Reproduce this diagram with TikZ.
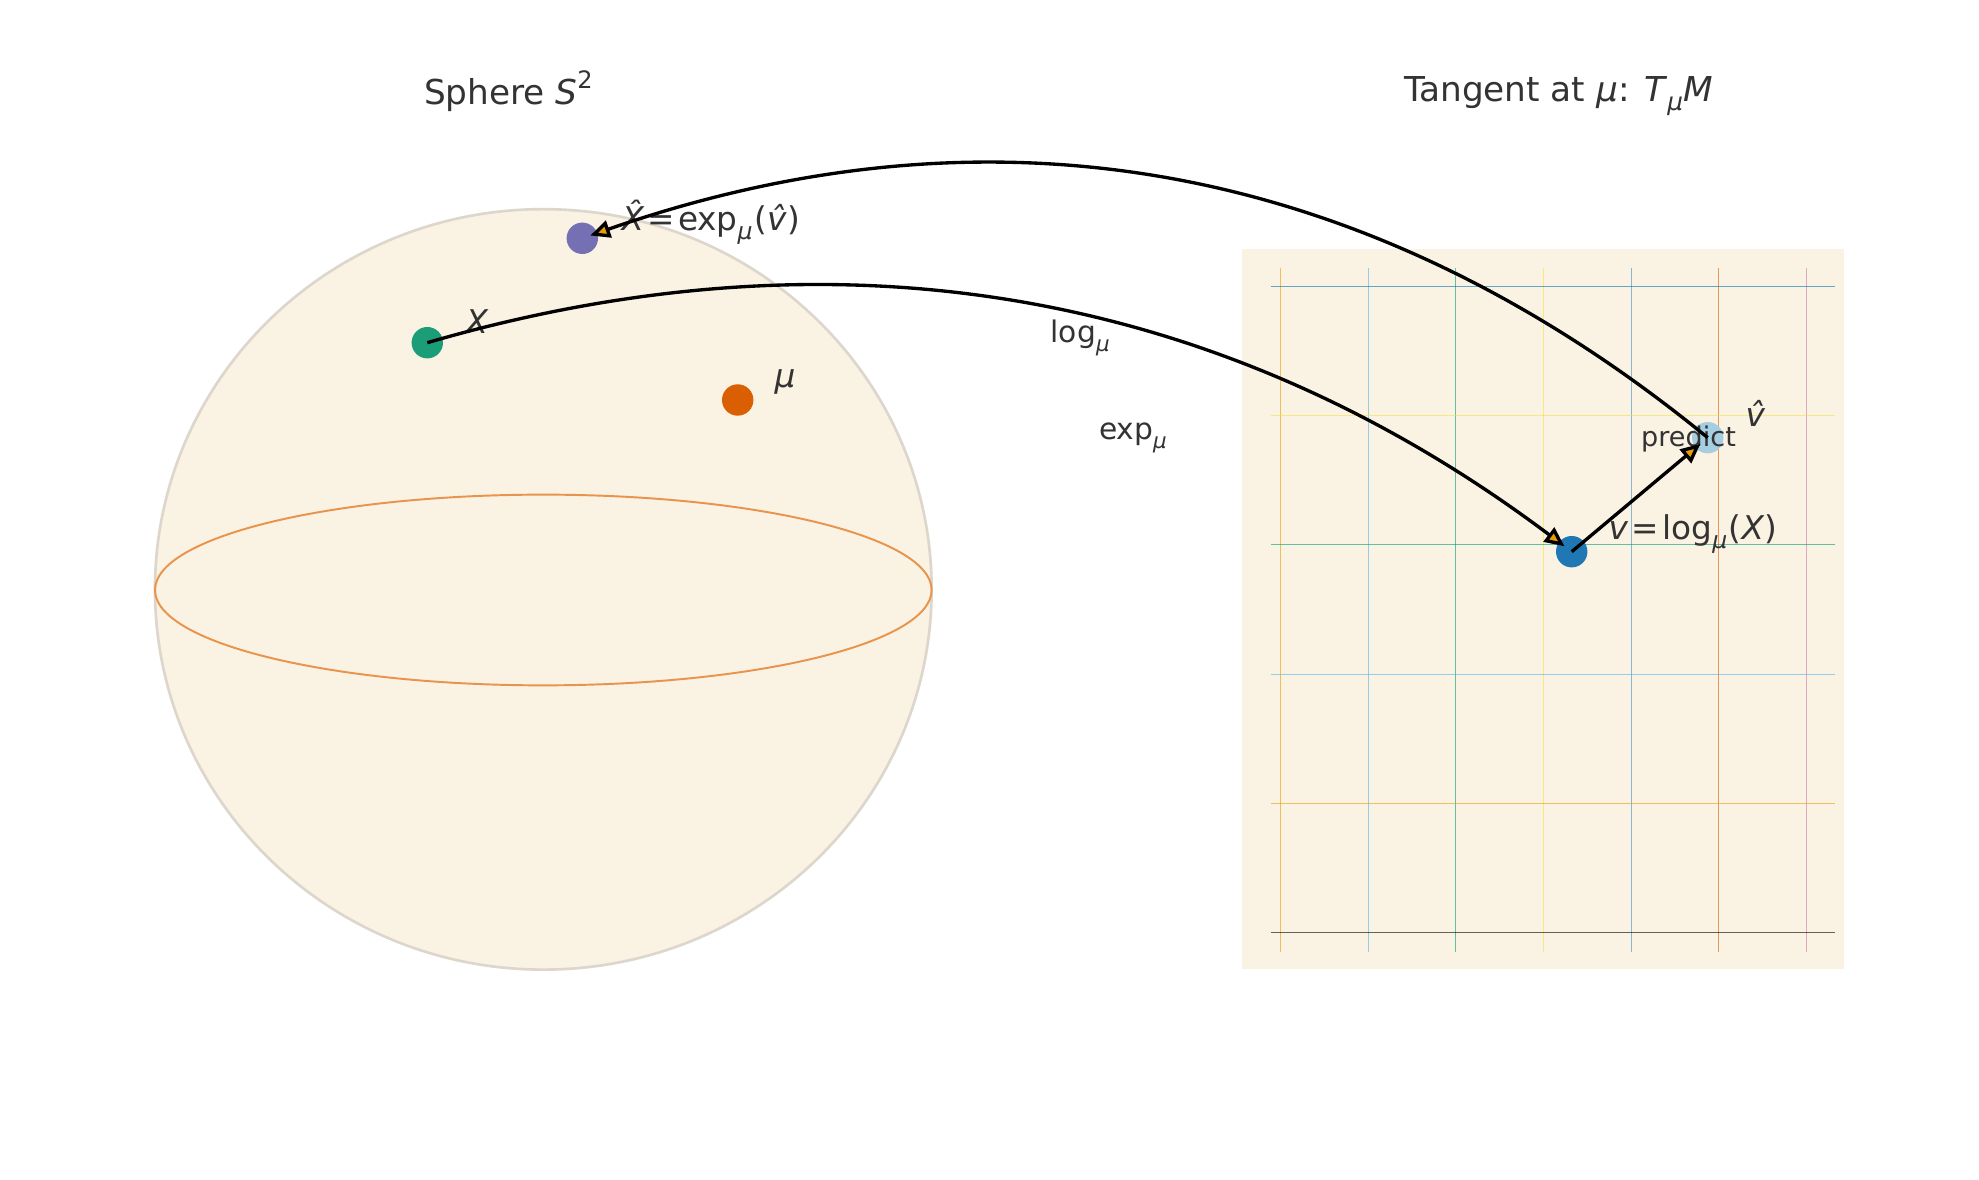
\documentclass[tikz,border=0pt]{standalone}
\usepackage{fontspec}
\setmainfont{DejaVu Sans}
\usetikzlibrary{arrows.meta}
\definecolor{txt}{RGB}{51,51,51}
\definecolor{cream}{RGB}{250,242,226}
\definecolor{sphedge}{RGB}{220,214,205}
\definecolor{equat}{RGB}{232,148,76}
\definecolor{cX}{HTML}{1B9E77}
\definecolor{cXh}{HTML}{7570B3}
\definecolor{cmu}{HTML}{D95F02}
\definecolor{cv}{HTML}{1F78B4}
\definecolor{cvh}{HTML}{A6CEE3}
\definecolor{tipc}{HTML}{E69F00}
\definecolor{oiA}{HTML}{E69F00}
\definecolor{oiB}{HTML}{56B4E9}
\definecolor{oiC}{HTML}{009E73}
\definecolor{oiD}{HTML}{F0E442}
\definecolor{oiE}{HTML}{0072B2}
\definecolor{oiF}{HTML}{D55E00}
\definecolor{oiG}{HTML}{CC79A7}
\newcommand\fA{\fontsize{9.75}{12}\selectfont}
\newcommand\fB{\fontsize{9.3}{12}\selectfont}
\newcommand\fC{\fontsize{8.45}{10}\selectfont}
\newcommand\fD{\fontsize{7.7}{10}\selectfont}
\newcommand\sbs[1]{\raisebox{-0.27em}{\scalebox{0.72}{#1}}}
\newcommand\sps[1]{\raisebox{0.45em}{\scalebox{0.7}{#1}}}
\newcommand\eqs{\kern0.1em=\kern0.1em}
\tikzset{
  dot/.style={circle, inner sep=0pt, minimum size=0.314cm, draw=none},
  lab/.style={inner sep=0pt, anchor=base west, text=txt},
  arr/.style={draw=black, line width=0.95pt,
    -{Triangle[length=5.6pt, width=5pt, fill=tipc]}},
  gridv/.style={line width=0.32pt, opacity=0.6},
  gridh/.style={line width=0.32pt, opacity=0.6}
}
\begin{document}
\begin{tikzpicture}[x=0.01cm, y=-0.01cm]
\useasboundingbox (0,0) rectangle (1979,1180);
\fill[white] (0,0) rectangle (1979,1180);

% sphere
\filldraw[fill=cream, draw=sphedge, line width=0.75pt] (543.3,589.4) ellipse [x radius=3.881cm, y radius=3.800cm];
\draw[equat, line width=0.55pt] (543.3,590) ellipse [x radius=3.881cm, y radius=0.953cm];

% tangent plane
\fill[cream] (1241.9,248.6) rectangle (1843.9,969.3);
\foreach \i/\c/\o in {0/oiA/0.6,1/oiB/0.6,2/oiC/0.6,3/oiD/0.6,4/oiE/0.45,5/oiF/0.6,6/oiG/0.6}{
  \draw[gridv, \c, opacity=\o] ({1280.4+\i*87.7},267.6) -- ({1280.4+\i*87.7},951.6);
}
\foreach \j/\c in {0/oiE,1/oiD,2/oiC,3/oiB,4/oiA,5/black}{
  \draw[gridh, \c] (1271,{286.5+\j*129.2}) -- (1835,{286.5+\j*129.2});
}

% titles
\node[lab] (t1) at (423.3,104.3) {\fA Sphere \textit{S}\sps{2}};
\node[lab] (t2) at (1403.3,101.7) {\fA Tangent at \textit{μ}: \textit{T}\sbs{\textit{μ}}\textit{M}};

% points
\node[dot, fill=cX] (X) at (427.3,342.7) {};
\node[dot, fill=cXh] (Xh) at (582.3,238.3) {};
\node[dot, fill=cmu] (mu) at (737.7,400) {};
\node[dot, fill=cv] (v) at (1571.7,551.7) {};
\node[dot, fill=cvh] (vh) at (1707.7,437.7) {};

% labels
\node[lab] (lX) at (465,333.3) {\fB\textit{X}};
\node[lab] (lmu) at (774,388) {\fB\textit{μ}};
\node[lab] (lXh) at (621,230.7) {\fB\textit{X̂}\eqs exp\sbs{\textit{μ}}\kern0.05em(\textit{v̂})};
\node[lab] (llog) at (1050,343) {\fC log\sbs{\textit{μ}}};
\node[lab] (lexp) at (1098.3,440) {\fC exp\sbs{\textit{μ}}};
\node[lab] (lvh) at (1745,426.5) {\fB\textit{v̂}};
\node[lab] (lv) at (1608,540) {\fB\textit{v}\eqs log\sbs{\textit{μ}}\kern0.05em(\textit{X})};
\node[lab] (lpred) at (1640.5,446.7) {\fD predict};

% arrows
\draw[arr, shorten >=0.09cm] (X.center) .. controls (843.6,221.6) and (1225.1,291.3) .. (v.center);
\draw[arr, shorten >=0.085cm] (vh.center) .. controls (1369.8,161.2) and (994.6,94.7) .. (Xh.center);
\draw[arr, shorten >=0.095cm] (v.center) -- (vh.center);
\end{tikzpicture}
\end{document}
